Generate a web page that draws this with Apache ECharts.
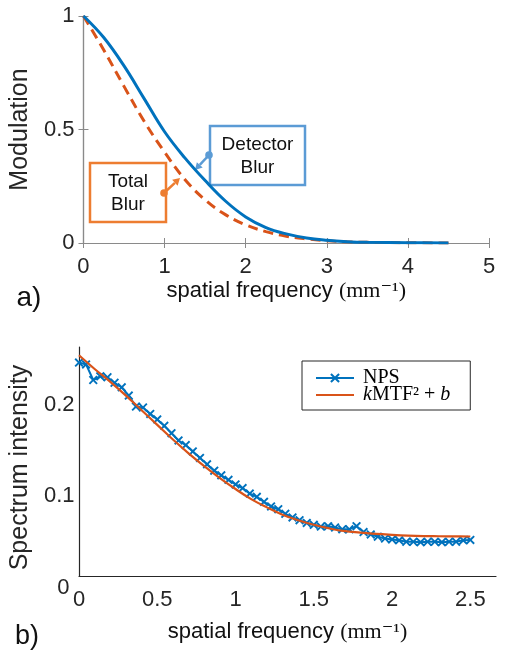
<!DOCTYPE html>
<html><head><meta charset="utf-8">
<script src="https://cdn.jsdelivr.net/npm/echarts@6/dist/echarts.min.js"></script>
<style>html,body{margin:0;padding:0;background:#fff}#c{width:505px;height:660px}</style>
</head><body><div id="c"></div>
<script>
// ---- panel a) MTF curves ----
const mtfFreq = [0,0.25,0.5,0.75,1,1.25,1.5,1.75,2,2.25,2.5,2.75,3,3.25,3.5,4,4.5];
const detectorBlur = [1,0.905,0.78,0.635,0.49,0.375,0.275,0.185,0.115,0.068,0.04,0.022,0.012,0.006,0.003,0.001,0];
const totalBlur = [1,0.85,0.69,0.535,0.40,0.28,0.19,0.125,0.08,0.05,0.03,0.018,0.01,0.005,0.003,0.001,0];
const topXTicks = [0,1,2,3,4,5];
const topYTicks = [0,0.5,1];

// ---- panel b) NPS and fit ----
const npsFreq = [0,0.045,0.091,0.136,0.182,0.227,0.273,0.318,0.364,0.409,0.455,0.5,0.545,0.591,0.636,0.682,0.727,0.773,0.818,0.864,0.909,0.955,1.0,1.045,1.091,1.136,1.182,1.227,1.273,1.318,1.364,1.409,1.455,1.5,1.545,1.591,1.636,1.682,1.727,1.773,1.818,1.864,1.909,1.955,2.0,2.045,2.091,2.136,2.182,2.227,2.273,2.318,2.364,2.409,2.455,2.5];
const npsValues = [0.246,0.244,0.227,0.231,0.230,0.224,0.219,0.210,0.198,0.197,0.190,0.184,0.177,0.169,0.161,0.156,0.149,0.142,0.135,0.128,0.123,0.118,0.113,0.109,0.103,0.0995,0.094,0.089,0.086,0.081,0.077,0.074,0.071,0.069,0.067,0.0675,0.066,0.064,0.064,0.0675,0.061,0.0585,0.056,0.054,0.053,0.052,0.0505,0.0505,0.050,0.0505,0.0505,0.050,0.0505,0.0505,0.052,0.0525];
const fitFreq = [0,0.1,0.2,0.3,0.4,0.5,0.6,0.7,0.8,0.9,1.0,1.1,1.2,1.3,1.4,1.5,1.6,1.7,1.8,1.9,2.0,2.1,2.2,2.3,2.4,2.5];
const fitValues = [0.254,0.239,0.225,0.210,0.194,0.178,0.162,0.147,0.133,0.120,0.108,0.097,0.088,0.080,0.074,0.069,0.065,0.062,0.0605,0.059,0.058,0.0572,0.0567,0.0565,0.0563,0.0562];
const botXTicks = [0,0.5,1,1.5,2,2.5];
const botYTicks = [0,0.1,0.2];

const BLUE = '#0072BD', ORANGE = '#D95319';
const SANS = '"Liberation Sans", Arial, sans-serif';
const SERIF = '"Liberation Serif", "DejaVu Serif", serif';
const pairs = (xs, ys) => xs.map((x, i) => [x, ys[i]]);
const xMark = 'path://M0,1.5L1.5,0L5,3.5L8.5,0L10,1.5L6.5,5L10,8.5L8.5,10L5,6.5L1.5,10L0,8.5L3.5,5Z';

const axisNameRich = {
  a: {fontFamily: SANS, fontSize: 22, color: '#111'},
  s: {fontFamily: SERIF, fontSize: 22, color: '#111'}
};
const axisNameText = '{a|spatial frequency }{s|(mm⁻¹)}';

function arrowGraphic(from, to, color) {
  const dx = to[0] - from[0], dy = to[1] - from[1];
  const L = Math.hypot(dx, dy), ux = dx / L, uy = dy / L;
  const hl = 7, hw = 4;
  const bx = to[0] - ux * hl, by = to[1] - uy * hl;
  return [
    {type: 'line', shape: {x1: from[0], y1: from[1], x2: bx, y2: by}, style: {stroke: color, lineWidth: 2.5}},
    {type: 'polygon', shape: {points: [to, [bx - uy * hw, by + ux * hw], [bx + uy * hw, by - ux * hw]]}, style: {fill: color}},
    {type: 'circle', shape: {cx: from[0], cy: from[1], r: 3.8}, style: {fill: color}}
  ];
}

const chart = echarts.init(document.getElementById('c'), null, {renderer: 'canvas'});
const topAxisColor = '#8a8a8a', botAxisColor = '#262626';

const option = {
  animation: false,
  backgroundColor: '#fff',
  grid: [
    {left: 81, top: 16, width: 408, height: 227},
    {left: 79, top: 347, width: 417, height: 229},
    {left: 79, top: 347, width: 417, height: 241}
  ],
  xAxis: [
    {gridIndex: 0, type: 'value', min: topXTicks[0], max: topXTicks[topXTicks.length - 1], interval: topXTicks[1] - topXTicks[0],
     axisLine: {lineStyle: {color: topAxisColor, width: 1.2}}, axisTick: {inside: true, length: 5, lineStyle: {color: topAxisColor}},
     axisLabel: {fontFamily: SANS, fontSize: 22, color: '#262626', margin: 13}, splitLine: {show: false},
     name: axisNameText, nameLocation: 'middle', nameGap: 37, nameTextStyle: {rich: axisNameRich}},
    {gridIndex: 0, type: 'value', position: 'top', min: topXTicks[0], max: topXTicks[topXTicks.length - 1], interval: topXTicks[1] - topXTicks[0],
     axisLine: {lineStyle: {color: topAxisColor, width: 1.2}}, axisTick: {inside: true, length: 5, lineStyle: {color: topAxisColor}},
     axisLabel: {show: false}, splitLine: {show: false}},
    {gridIndex: 1, type: 'value', min: botXTicks[0], max: 2.664, interval: botXTicks[1] - botXTicks[0],
     axisLine: {onZero: false, lineStyle: {color: botAxisColor, width: 1.2}}, axisTick: {show: false},
     axisLabel: {fontFamily: SANS, fontSize: 22, color: '#262626', margin: 13, showMaxLabel: false}, splitLine: {show: false},
     name: axisNameText, nameLocation: 'middle', nameGap: 45, nameTextStyle: {rich: axisNameRich}},
    {gridIndex: 2, type: 'value', min: 0, max: 2.664, show: false}
  ],
  yAxis: [
    {gridIndex: 0, type: 'value', min: topYTicks[0], max: topYTicks[topYTicks.length - 1], interval: topYTicks[1] - topYTicks[0],
     axisLine: {show: true, lineStyle: {color: topAxisColor, width: 1.2}}, axisTick: {show: true, inside: true, length: 5, lineStyle: {color: topAxisColor}},
     axisLabel: {fontFamily: SANS, fontSize: 22, color: '#262626', margin: 9}, splitLine: {show: false},
     name: 'Modulation', nameLocation: 'middle', nameGap: 47, nameTextStyle: {fontFamily: SANS, fontSize: 25, color: '#262626'}},
    {gridIndex: 0, type: 'value', position: 'right', min: topYTicks[0], max: topYTicks[topYTicks.length - 1], interval: topYTicks[1] - topYTicks[0],
     axisLine: {show: true, lineStyle: {color: topAxisColor, width: 1.2}}, axisTick: {show: true, inside: true, length: 5, lineStyle: {color: topAxisColor}},
     axisLabel: {show: false}, splitLine: {show: false}},
    {gridIndex: 1, type: 'value', min: 0.0131, max: 0.263,
     axisLine: {show: true, onZero: false, lineStyle: {color: botAxisColor, width: 1.2}}, axisTick: {show: false},
     axisLabel: {show: false}, splitLine: {show: false}},
    {gridIndex: 2, type: 'value', min: botYTicks[0], max: 0.263, interval: botYTicks[1] - botYTicks[0],
     axisLine: {show: false}, axisTick: {show: false}, splitLine: {show: false},
     axisLabel: {fontFamily: SANS, fontSize: 22, color: '#262626', margin: 7, showMaxLabel: false,
       formatter: v => v === 0 ? '{z|0}' : String(Math.round(v * 10) / 10),
       rich: {z: {fontFamily: SANS, fontSize: 22, color: '#262626', padding: [0, 5, 0, 0]}}},
     name: 'Spectrum intensity', nameLocation: 'middle', nameGap: 45, nameTextStyle: {fontFamily: SANS, fontSize: 25, color: '#262626'}}
  ],
  legend: {
    data: ['NPS', {name: 'fit', itemStyle: {opacity: 0}}],
    orient: 'vertical', left: 302, top: 361,
    borderColor: '#262626', borderWidth: 1, padding: [7, 20, 5, 13],
    itemWidth: 38, itemHeight: 12, itemGap: -3,
    textStyle: {fontFamily: SERIF, fontSize: 20, color: '#000', lineHeight: 18,
      rich: {
        n: {fontFamily: SERIF, fontSize: 20, lineHeight: 18, color: '#000', padding: [0, 0, 0, 4]},
        i: {fontFamily: SERIF, fontSize: 20, lineHeight: 18, fontStyle: 'italic', color: '#000', padding: [0, 0, 0, 4]},
        r: {fontFamily: SERIF, fontSize: 20, lineHeight: 18, color: '#000'},
        ri: {fontFamily: SERIF, fontSize: 20, lineHeight: 18, fontStyle: 'italic', color: '#000'}
      }},
    formatter: name => name === 'NPS' ? '{n|NPS}' : '{i|k}{r|MTF² + }{ri|b}'
  },
  graphic: [
    {type: 'rect', shape: {x: 210, y: 126, width: 95, height: 59}, style: {fill: 'none', stroke: '#5B9BD5', lineWidth: 2.5}},
    {type: 'text', style: {text: 'Detector\nBlur', x: 257.5, y: 156, align: 'center', verticalAlign: 'middle', textAlign: 'center', textVerticalAlign: 'middle', fontFamily: SANS, fontSize: 19, lineHeight: 23, fill: '#111'}},
    {type: 'rect', shape: {x: 90, y: 163, width: 76, height: 59}, style: {fill: 'none', stroke: '#ED7D31', lineWidth: 2.5}},
    {type: 'text', style: {text: 'Total\nBlur', x: 128, y: 193, align: 'center', verticalAlign: 'middle', textAlign: 'center', textVerticalAlign: 'middle', fontFamily: SANS, fontSize: 19, lineHeight: 23, fill: '#111'}},
    ...arrowGraphic([209, 155], [195, 170], '#5B9BD5'),
    ...arrowGraphic([164, 193], [180, 178], '#ED7D31'),
    {type: 'text', style: {text: 'a)', x: 29, y: 298, align: 'center', verticalAlign: 'middle', textAlign: 'center', textVerticalAlign: 'middle', fontFamily: SANS, fontSize: 28, fill: '#111'}},
    {type: 'text', style: {text: 'b)', x: 27, y: 637, align: 'center', verticalAlign: 'middle', textAlign: 'center', textVerticalAlign: 'middle', fontFamily: SANS, fontSize: 27, fill: '#111'}}
  ],
  series: [
    {name: 'Total Blur', type: 'line', xAxisIndex: 0, yAxisIndex: 0, data: pairs(mtfFreq, totalBlur), smooth: 0.4, showSymbol: false,
     lineStyle: {color: ORANGE, width: 3, type: [10, 6]}, z: 2},
    {name: 'Detector Blur', type: 'line', xAxisIndex: 0, yAxisIndex: 0, data: pairs(mtfFreq, detectorBlur), smooth: 0.4, showSymbol: false,
     lineStyle: {color: BLUE, width: 3}, z: 3},
    {name: 'NPS', type: 'line', xAxisIndex: 2, yAxisIndex: 2, data: pairs(npsFreq, npsValues), showSymbol: true, showAllSymbol: true,
     symbol: xMark, symbolSize: 9, itemStyle: {color: BLUE}, lineStyle: {color: BLUE, width: 2}, z: 2},
    {name: 'fit', type: 'line', xAxisIndex: 2, yAxisIndex: 2, data: pairs(fitFreq, fitValues), smooth: 0.4, symbol: 'none', showSymbol: false,
     itemStyle: {color: ORANGE}, lineStyle: {color: ORANGE, width: 2.2}, z: 3}
  ]
};
chart.setOption(option);
</script></body></html>
